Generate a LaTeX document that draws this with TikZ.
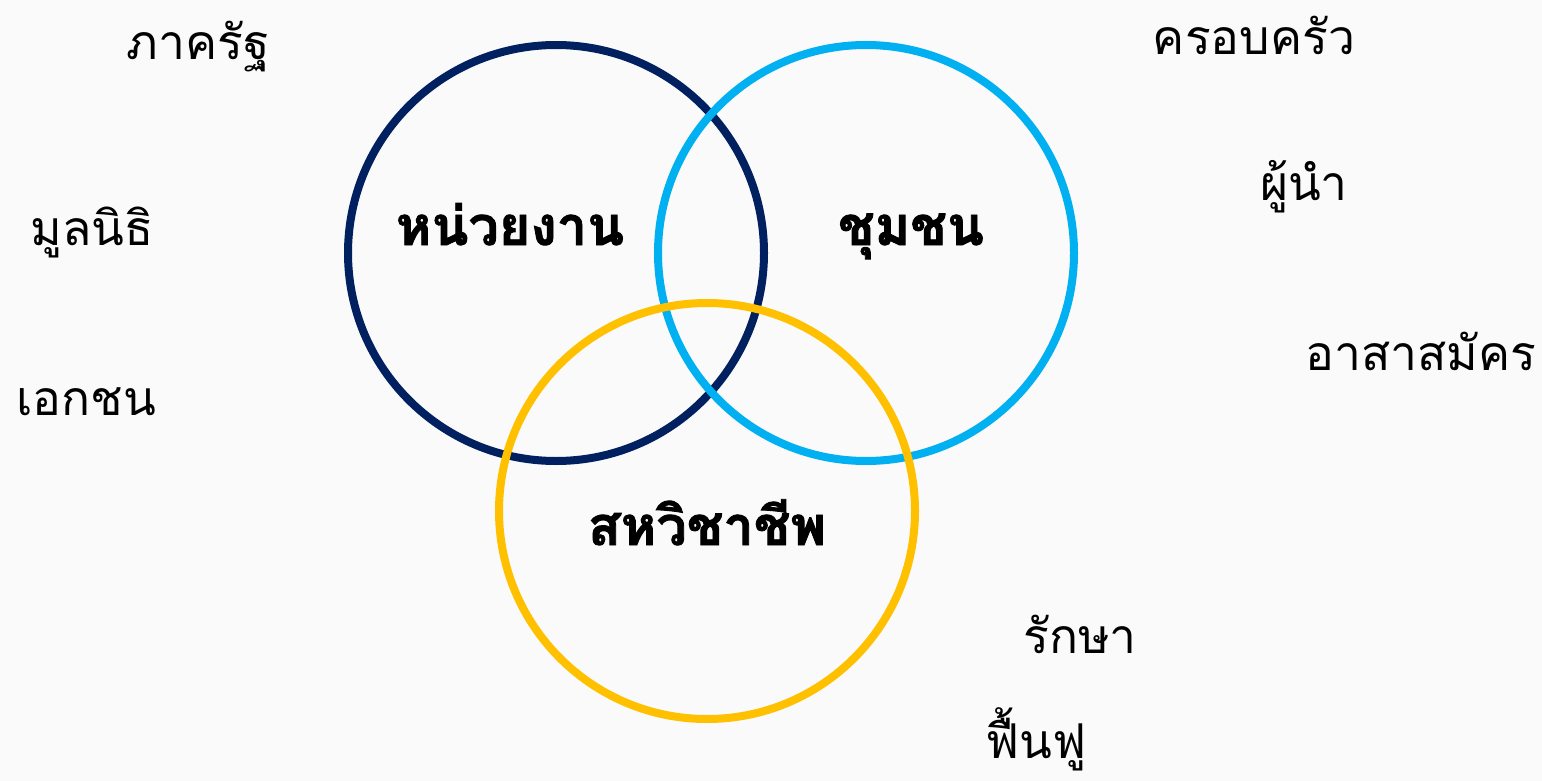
\documentclass[tikz,border=0pt]{standalone}
\usepackage{fontspec}
\newfontfamily\thaifont[Script=Thai]{Loma}
\newfontfamily\thaiheavy[Script=Thai, BoldFeatures={FakeBold=1.6}]{Loma}
\usepackage{tikz}
\usepackage{xcolor}

\definecolor{navyring}{HTML}{002060}
\definecolor{skyring}{HTML}{00B0F0}
\definecolor{goldring}{HTML}{FFC000}
\definecolor{paper}{HTML}{FAFAFA}

\begin{document}
\begin{tikzpicture}[
    x=1pt, y=-1pt,
    ring/.style={
        circle,
        draw,
        line width=8pt,
        minimum size=416pt,
        inner sep=0pt
    },
    word/.style={
        anchor=base,
        inner sep=0pt,
        font=\thaifont\fontsize{48}{56}\selectfont
    },
    core/.style={
        anchor=base,
        inner sep=0pt,
        font=\thaiheavy\bfseries\fontsize{54}{60}\selectfont
    }
]

\fill[paper] (0,0) rectangle (1542,781);
\useasboundingbox (0,0) rectangle (1542,781);

\node[ring, navyring] (agency) at (556,253) {};
\node[ring, skyring] (community) at (866,253) {};
\node[ring, goldring] (multi) at (707,511) {};

\node[core] (agencytxt) at (510,245) {หน่วยงาน};
\node[core] (communitytxt) at (911,245) {ชุมชน};
\node[core] (multitxt) at (707,545) {สหวิชาชีพ};

\node[word] (gov) at (198,60) {ภาครัฐ};
\node[word] (found) at (92,245) {มูลนิธิ};
\node[word] (private) at (86,415) {เอกชน};

\node[word] (family) at (1254,55) {ครอบครัว};
\node[word] (leader) at (1304,200) {ผู้นำ};
\node[word] (volunteer) at (1421,370) {อาสาสมัคร};

\node[word] (treat) at (1080,653) {รักษา};
\node[word] (restore) at (1036,758) {ฟื้นฟู};

\end{tikzpicture}
\end{document}
